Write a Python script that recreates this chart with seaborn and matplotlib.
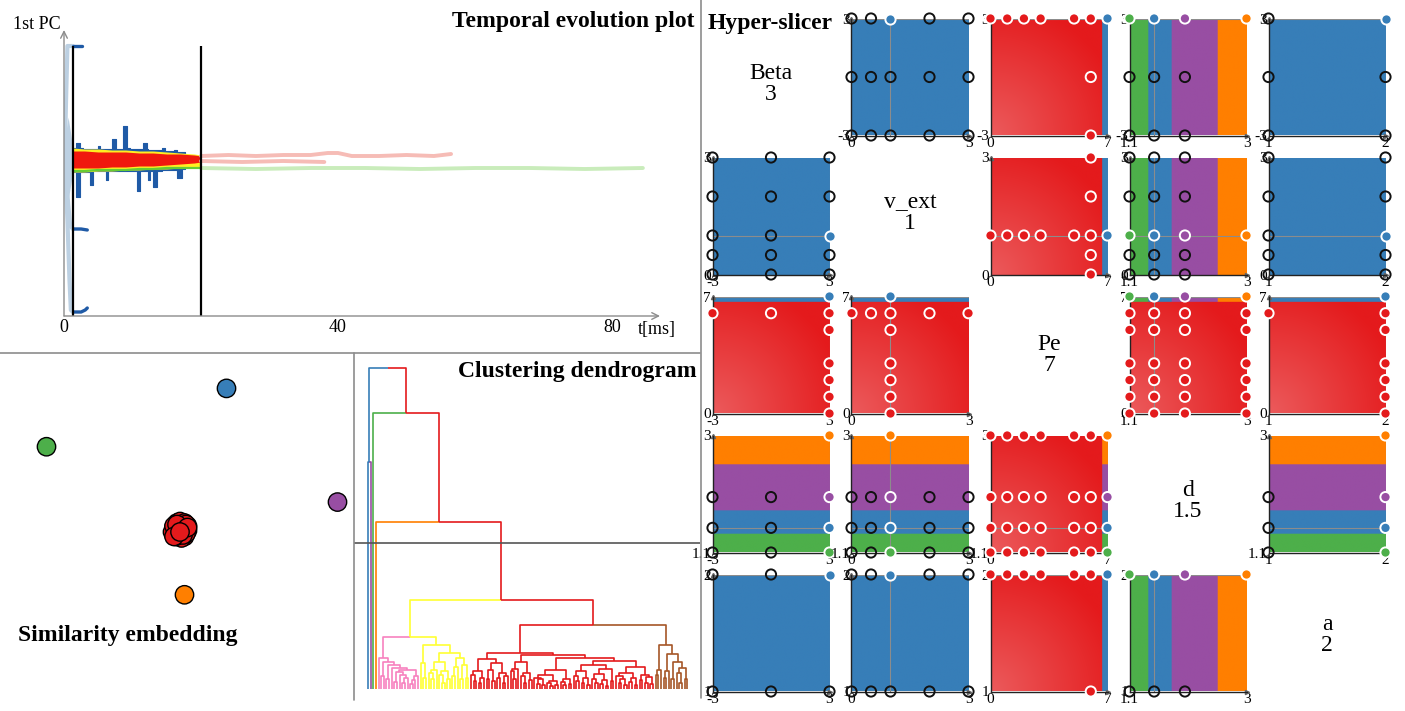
import numpy as np
import pandas as pd
import matplotlib
matplotlib.use("Agg")
import matplotlib.pyplot as plt
from matplotlib.lines import Line2D
import seaborn as sns

sns.set_theme(style="white")
plt.rcParams["font.family"] = ["Liberation Serif", "DejaVu Serif"]
plt.rcParams["text.color"] = "black"

W, H = 1405, 711

# ---------- colours: ColorBrewer Set1 ----------
set1 = sns.color_palette("Set1", 9)
COL = {"red": set1[0], "blue": set1[1], "green": set1[2], "purple": set1[3],
       "orange": set1[4], "yellow": set1[5], "brown": set1[6], "pink": set1[7]}
DARK_BLUE = "#1f5aa6"
FADED_BLUE = "#bcd0e2"
FADED_RED = "#f6bcb6"
FADED_GREEN = "#c9ecbb"
FADED_WARM = "#f9d9c4"

# ---------- temporal evolution data (t in ms, 1st PC) ----------
WINDOW_T = [1.3, 20.0]
T_RANGE = (0, 87)
PC_RANGE = (-1.56, 1.30)
T_TICKS = [0, 40, 80]

BAND_T = [1.3, 3, 5, 7, 9, 11, 13, 15, 17, 19, 20]
YELLOW_HI = [0.12, 0.11, 0.11, 0.10, 0.10, 0.09, 0.09, 0.08, 0.07, 0.06, 0.05]
YELLOW_LO = [-0.12, -0.12, -0.11, -0.11, -0.10, -0.10, -0.09, -0.09, -0.08, -0.08, -0.07]
GREEN_IN_Y = [-0.11, -0.11, -0.10, -0.10, -0.10, -0.09, -0.09, -0.08, -0.08, -0.08, -0.08]
RED_HI = [0.09, 0.09, 0.08, 0.08, 0.08, 0.07, 0.07, 0.06, 0.06, 0.05, 0.04]
RED_LO = [-0.08, -0.08, -0.08, -0.07, -0.07, -0.06, -0.06, -0.05, -0.04, -0.03, -0.02]

BLUE_T = [1.3, 1.7, 2.3, 2.8, 3.3, 3.8, 4.3, 4.8, 5.0, 5.3, 5.8, 6.1, 6.4, 7.0, 7.6,
          8.1, 8.6, 9.2, 9.7, 10.2, 10.6, 11.1, 11.5, 12.1, 12.3, 12.6, 13.0, 13.6,
          14.3, 14.7, 15.2, 16.0, 16.5, 17.2, 17.7]
BLUE_HI = [0.12, 0.17, 0.12, 0.11, 0.11, 0.11, 0.11, 0.11, 0.14, 0.11, 0.11, 0.11, 0.11, 0.21, 0.11,
           0.11, 0.34, 0.12, 0.11, 0.11, 0.11, 0.11, 0.17, 0.11, 0.10, 0.10, 0.10, 0.10,
           0.12, 0.09, 0.09, 0.10, 0.08, 0.08, 0.08]
BLUE_LO = [-0.12, -0.37, -0.12, -0.12, -0.12, -0.25, -0.11, -0.11, -0.11, -0.11, -0.11, -0.20, -0.11, -0.11, -0.11,
           -0.11, -0.11, -0.11, -0.11, -0.11, -0.31, -0.11, -0.11, -0.11, -0.20, -0.11, -0.27, -0.11,
           -0.10, -0.10, -0.10, -0.10, -0.18, -0.09, -0.09]

# outlier runs that leave the main band early
OUT_TOP_T, OUT_TOP_Y = [1.3, 2.6], [1.14, 1.14]
OUT_MID_T, OUT_MID_Y = [1.4, 2.5, 3.4], [-0.69, -0.69, -0.70]
OUT_BOT_T, OUT_BOT_Y = [1.4, 2.5, 3.1, 3.4], [-1.52, -1.52, -1.50, -1.48]

# faded parts outside the time window
EARLY_TOP_T, EARLY_TOP_Y = [0.1, 0.3, 0.5, 1.3], [0.0, 0.6, 1.14, 1.14]
EARLY_MID_T, EARLY_MID_Y = [0.1, 0.5, 0.9, 1.3], [0.0, -0.35, -0.66, -0.69]
EARLY_BOT_T, EARLY_BOT_Y = [0.1, 0.5, 0.8, 1.0, 1.3], [0.0, -0.6, -1.2, -1.5, -1.52]
EARLY_BAND_T = [0.1, 0.6, 1.3]
EARLY_BAND_HI = [0.2, 0.43, 0.12]
EARLY_BAND_LO = [-0.2, -0.4, -0.12]
EARLY_WARM_T, EARLY_WARM_HI, EARLY_WARM_LO = [0.0, 1.3], [0.03, 0.10], [-0.03, -0.10]

LATE_PINK1_T = [20, 24, 28, 32, 36, 38.5, 40, 42, 46, 50, 54, 56.5]
LATE_PINK1_Y = [0.04, 0.05, 0.04, 0.05, 0.05, 0.07, 0.07, 0.04, 0.04, 0.05, 0.04, 0.06]
LATE_PINK2_T = [20, 26, 32, 38]
LATE_PINK2_Y = [-0.01, -0.02, -0.01, -0.02]
LATE_GREEN_T = [20, 28, 36, 44, 52, 60, 68, 76, 84.5]
LATE_GREEN_Y = [-0.08, -0.09, -0.08, -0.08, -0.09, -0.08, -0.08, -0.09, -0.08]

# ---------- similarity embedding ----------
EMB_LABELS = ["blue", "green", "purple", "orange"]
EMB_X = [0.31, -0.89, 1.05, 0.03]
EMB_Y = [0.95, 0.56, 0.19, -0.43]
RED_X = [-0.04, -0.02, 0.0, 0.03, 0.05, 0.05, 0.03, 0.01, -0.03, -0.05, -0.04, 0.02, 0.04, 0.02, -0.01, 0.04, -0.02, 0.05, -0.04, 0.0]
RED_Y = [0.02, 0.05, 0.06, 0.05, 0.03, 0.0, -0.04, -0.05, -0.04, -0.01, 0.03, 0.02, -0.02, -0.03, -0.01, 0.04, 0.04, 0.02, -0.04, -0.01]

# ---------- clustering dendrogram: merge height between neighbouring leaves ----------
SINGLETON_LABELS = ["blue", "purple", "green", "orange"]
SINGLETON_GAPS = [7.07, 10.0, 8.6, 5.2]
PINK_GAPS = [0.96, 0.42, 0.85, 0.3, 0.75, 0.64, 0.22, 0.54, 0.44, 0.18, 0.34, 0.6, 0.15, 0.28, 0.4]
PINK_YELLOW_GAP = 1.62
YELLOW_GAPS = [0.8, 0.35, 1.37, 0.5, 0.3, 0.6, 0.85, 0.45, 0.2, 0.55, 0.3, 1.11, 0.4, 0.7, 0.96, 0.3, 0.75, 0.35]
YELLOW_RED_GAP = 2.77
RED_GAPS = [0.45, 0.25, 0.55, 0.2, 0.35, 0.94, 0.3, 0.6, 0.25, 0.8, 0.35, 0.5, 0.2, 0.4,
            1.12,
            0.55, 0.3, 0.62, 0.85, 0.4, 0.2, 0.5, 0.28, 1.07, 0.35, 0.15, 0.32, 0.12, 0.45,
            0.18, 0.1, 0.26, 0.14, 0.6, 0.22, 0.11, 0.3, 0.16, 0.98, 0.4, 0.25, 0.55, 0.18,
            0.35, 0.12, 0.75, 0.3, 0.2, 0.48, 0.15, 0.28, 0.1, 0.62, 0.24, 0.88, 0.42, 0.18,
            0.3, 0.12, 0.5, 0.22, 0.35, 0.14, 0.68, 0.28, 0.45, 0.2, 0.38, 0.16]
RED_BROWN_GAP = 1.99
BROWN_GAPS = [0.45, 0.6, 1.37, 0.35, 0.55, 1.1, 0.3, 0.85, 0.5, 0.2, 0.65, 0.3]
CUT_HEIGHT = 4.55

# ---------- hyper-slicer ----------
PARAM_NAMES = ["Beta", "v_ext", "Pe", "d", "a"]
PARAM_MIN = [-3, 0, 0, 1.1, 1]
PARAM_MAX = [3, 3, 7, 3, 2]
MIN_LABELS = ["-3", "0", "0", "1.1", "1"]
MAX_LABELS = ["3", "3", "7", "3", "2"]
CURRENT = [3, 1, 7, 1.5, 2]
CURRENT_LABELS = ["3", "1", "7", "1.5", "2"]

BETA_LEVELS = [-3, 0, 3]
VEXT_LEVELS = [0, 0.5, 1, 2, 3]
PE_LEVELS = [0, 1, 2, 3, 5, 6, 7]
D_LEVELS = [1.1, 1.5, 2, 3]
A_LEVELS = [1, 2]
GRID_PE = 6
GRID_D_LEVELS = [1.1, 1.5, 2]

PE_SPLIT = 6.65
D_SPLITS = [1.39, 1.77, 2.53]
REGION_ORDER = ["red", "green", "blue", "purple", "orange"]

# sample design: Pe x d sweep at the base point, plus a factorial grid at Pe = 6
SAMPLES = set()
for pe in PE_LEVELS:
    for d in D_LEVELS:
        SAMPLES.add((3, 1, pe, d, 2))
for b in BETA_LEVELS:
    for v in VEXT_LEVELS:
        for d in GRID_D_LEVELS:
            for a in A_LEVELS:
                SAMPLES.add((b, v, GRID_PE, d, a))
SAMPLES = sorted(SAMPLES)


def region_index(pe, d):
    pe = np.asarray(pe, dtype=float)
    d = np.asarray(d, dtype=float)
    return np.where(pe < PE_SPLIT, 0, 1 + np.searchsorted(D_SPLITS, d))


REGION_RGB = np.array([COL[c] for c in REGION_ORDER])

# ---------- figure ----------
fig = plt.figure(figsize=(W / 100, H / 100), dpi=100)
fig.patch.set_facecolor("white")


def px_axes(x0, y0, x1, y1):
    return fig.add_axes([x0 / W, 1 - y1 / H, (x1 - x0) / W, (y1 - y0) / H])


def fxy(x, y):
    return x / W, 1 - y / H


# panel dividers
for (xa, ya), (xb, yb) in [((0, 353), (700, 353)), ((354, 353), (354, 700)), ((701, 0), (701, 698))]:
    fig.add_artist(Line2D([xa / W, xb / W], [1 - ya / H, 1 - yb / H], color="#8c8c8c", lw=1.2,
                          transform=fig.transFigure))

# ---- temporal evolution plot ----
ax = px_axes(64, 30, 660, 316)
ax.set_facecolor("none")
ax.fill_between(EARLY_WARM_T, EARLY_WARM_LO, EARLY_WARM_HI, color=FADED_WARM, lw=0)
ax.fill_between(EARLY_BAND_T, EARLY_BAND_LO, EARLY_BAND_HI, color=FADED_BLUE, lw=0)
for tt, yy in [(EARLY_TOP_T, EARLY_TOP_Y), (EARLY_MID_T, EARLY_MID_Y), (EARLY_BOT_T, EARLY_BOT_Y)]:
    ax.plot(tt, yy, color=FADED_BLUE, lw=3)
ax.plot(LATE_GREEN_T, LATE_GREEN_Y, color=FADED_GREEN, lw=2.8)
ax.plot(LATE_PINK2_T, LATE_PINK2_Y, color=FADED_RED, lw=2.8)
ax.plot(LATE_PINK1_T, LATE_PINK1_Y, color=FADED_RED, lw=2.8)

ax.fill_between(BLUE_T, BLUE_LO, BLUE_HI, step="post", color=DARK_BLUE, lw=0.8, edgecolor=DARK_BLUE)
for tt, yy in [(OUT_TOP_T, OUT_TOP_Y), (OUT_MID_T, OUT_MID_Y), (OUT_BOT_T, OUT_BOT_Y)]:
    ax.plot(tt, yy, color=DARK_BLUE, lw=2.4, solid_capstyle="round")
ax.fill_between(BAND_T, YELLOW_LO, YELLOW_HI, color="#ffee22", lw=0)
ax.plot(BAND_T, GREEN_IN_Y, color="#66cc33", lw=1.6)
ax.fill_between(BAND_T, RED_LO, RED_HI, color="#f0180e", lw=0)
ax.vlines(WINDOW_T, PC_RANGE[0], 1.14, color="black", lw=1.6)

ax.set_xlim(*T_RANGE)
ax.set_ylim(*PC_RANGE)
for s in ax.spines.values():
    s.set_visible(False)
arrow = dict(arrowstyle="->", color="#8c8c8c", lw=1.0, shrinkA=0, shrinkB=0)
ax.annotate("", xy=(1, 0), xytext=(0, 0), xycoords="axes fraction", arrowprops=arrow)
ax.annotate("", xy=(0, 1), xytext=(0, 0), xycoords="axes fraction", arrowprops=arrow)
ax.set_xticks(T_TICKS)
ax.set_xticklabels([str(t) for t in T_TICKS])
ax.set_yticks([])
ax.tick_params(axis="x", length=0, pad=2, labelsize=13, labelcolor="black")
ax.text(-0.005, 1.02, "1st PC", transform=ax.transAxes, ha="right", va="center", fontsize=13)
ax.text(0.995, -0.047, "t[ms]", transform=ax.transAxes, ha="center", va="center", fontsize=13)

# ---- similarity embedding ----
ax_e = px_axes(0, 354, 354, 711)
emb = pd.DataFrame({"x": RED_X + EMB_X, "y": RED_Y + EMB_Y,
                    "cluster": ["red"] * len(RED_X) + EMB_LABELS})
sns.scatterplot(data=emb, x="x", y="y", hue="cluster", palette=COL, s=175,
                edgecolor="black", linewidth=1.0, legend=False, ax=ax_e)
ax_e.set_xlim(-1.2, 1.16)
ax_e.set_ylim(-1.207, 1.18)
ax_e.axis("off")

# ---- clustering dendrogram ----
leaf_labels = (SINGLETON_LABELS + ["pink"] * (len(PINK_GAPS) + 1) + ["yellow"] * (len(YELLOW_GAPS) + 1)
               + ["red"] * (len(RED_GAPS) + 1) + ["brown"] * (len(BROWN_GAPS) + 1))
gaps = (SINGLETON_GAPS + PINK_GAPS + [PINK_YELLOW_GAP] + YELLOW_GAPS + [YELLOW_RED_GAP]
        + RED_GAPS + [RED_BROWN_GAP] + BROWN_GAPS)
segments = []


def build(lo, hi):
    if lo == hi:
        return float(lo), 0.0, {leaf_labels[lo]: 1}
    k = lo + int(np.argmax(gaps[lo:hi]))
    left = build(lo, k)
    right = build(k + 1, hi)
    h = gaps[k]
    x = (left[0] + right[0]) / 2
    for cx, ch, cnt in (left, right):
        colour = max(cnt.items(), key=lambda kv: kv[1])[0]
        segments.append(([cx, cx, x], [ch, h, h], colour))
    merged = dict(left[2])
    for key, n in right[2].items():
        merged[key] = merged.get(key, 0) + n
    return x, h, merged


build(0, len(leaf_labels) - 1)
ax_d = px_axes(354, 353, 700, 700)
for xs, ys, c in segments:
    ax_d.plot(xs, ys, color=COL[c], lw=1.2, solid_capstyle="butt")
ax_d.axhline(CUT_HEIGHT, color="#555555", lw=1.2)
ax_d.set_xlim(-5.3, 125.8)
ax_d.set_ylim(-0.343, 10.47)
ax_d.axis("off")

# ---- hyper-slicer ----
CELL0_X, CELL0_Y, STEP, SIZE = 712.5, 18.5, 139.0, 117.0
DIAG_SHIFT = [7, -3, 0, 7, 2]
for i in range(5):
    for j in range(5):
        x0 = CELL0_X + STEP * j
        y0 = CELL0_Y + STEP * i
        if i == j:
            fx, fy = fxy(x0 + SIZE / 2, y0 + SIZE / 2 + DIAG_SHIFT[i])
            fig.text(fx, fy, f"{PARAM_NAMES[i]}\n{CURRENT_LABELS[i]}", ha="center", va="center",
                     fontsize=17, linespacing=0.95)
            continue
        cax = px_axes(x0, y0, x0 + SIZE, y0 + SIZE)
        xmin, xmax = PARAM_MIN[j], PARAM_MAX[j]
        ymin, ymax = PARAM_MIN[i], PARAM_MAX[i]
        X, Y = np.meshgrid(np.linspace(xmin, xmax, 160), np.linspace(ymin, ymax, 160))
        grid = [np.full(X.shape, float(c)) for c in CURRENT]
        grid[j] = X
        grid[i] = Y
        lab = region_index(grid[2], grid[3])
        img = REGION_RGB[lab].copy()
        u = (X - xmin) / (xmax - xmin)
        w = (Y - ymin) / (ymax - ymin)
        light = 0.28 * np.clip(1 - np.hypot(u, w) / 1.15, 0, 1)
        red = lab == 0
        img[red] += (1 - img[red]) * light[red][:, None]
        cax.imshow(img, extent=[xmin, xmax, ymin, ymax], origin="lower", aspect="auto",
                   interpolation="bilinear", zorder=1)
        cax.axvline(CURRENT[j], color="#8c8c8c", lw=0.8, zorder=2)
        cax.axhline(CURRENT[i], color="#8c8c8c", lw=0.8, zorder=2)

        proj = {}
        for s in SAMPLES:
            key = (s[j], s[i])
            inside = all(s[k] == CURRENT[k] for k in range(5) if k not in (i, j))
            proj[key] = proj.get(key, False) or inside
        hx, hy, hec, fxs, fys, ffc = [], [], [], [], [], []
        for (px_, py_), inside in proj.items():
            p = list(CURRENT)
            p[j], p[i] = px_, py_
            region = REGION_ORDER[int(region_index(p[2], p[3]))]
            if inside:
                fxs.append(px_); fys.append(py_); ffc.append(COL[region])
            else:
                hx.append(px_); hy.append(py_)
                hec.append("white" if region == "red" else "#111111")
        if hx:
            cax.scatter(hx, hy, s=54, facecolors="none", edgecolors=hec, linewidths=1.4,
                        clip_on=False, zorder=4)
        if fxs:
            cax.scatter(fxs, fys, s=54, facecolors=ffc, edgecolors="white", linewidths=1.4,
                        clip_on=False, zorder=5)
        cax.plot([xmax], [ymin], marker=">", ms=3, color="#666666", clip_on=False, zorder=3)
        cax.plot([xmin], [ymax], marker="^", ms=3, color="#666666", clip_on=False, zorder=3)

        cax.set_xlim(xmin, xmax)
        cax.set_ylim(ymin, ymax)
        cax.set_xticks([xmin, xmax])
        cax.set_xticklabels([MIN_LABELS[j], MAX_LABELS[j]])
        cax.set_yticks([ymin, ymax])
        cax.set_yticklabels([MIN_LABELS[i], MAX_LABELS[i]])
        cax.tick_params(length=0, pad=1, labelsize=11, labelcolor="black")
        for side in ["top", "right"]:
            cax.spines[side].set_visible(False)
        for side in ["left", "bottom"]:
            cax.spines[side].set_color("#222222")
            cax.spines[side].set_linewidth(1.0)
            cax.spines[side].set_zorder(3)

# ---- panel titles ----
bold = dict(fontsize=17, fontweight="bold", va="center", color="black")
fig.text(*fxy(695, 22), "Temporal evolution plot", ha="right", **bold)
fig.text(*fxy(708, 24), "Hyper-slicer", ha="left", **bold)
fig.text(*fxy(697, 371), "Clustering dendrogram", ha="right", **bold)
fig.text(*fxy(18, 636), "Similarity embedding", ha="left", **bold)

fig.savefig("out.png", dpi=100, facecolor="white")
